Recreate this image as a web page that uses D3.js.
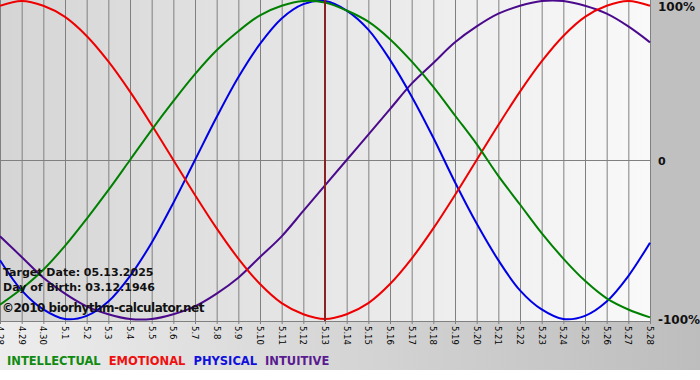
<!DOCTYPE html>
<html>
<head>
<meta charset="utf-8">
<script src="https://cdn.jsdelivr.net/npm/d3@7"></script>
<style>
  body { margin: 0; background: #fff; }
  svg { display: block; }
  text { font-family: "DejaVu Sans", Verdana, sans-serif; }
</style>
</head>
<body>
<svg id="chart" width="700" height="380"></svg>
<script>
// day labels along the bottom
var days = ["4.28","4.29","4.30","5.1","5.2","5.3","5.4","5.5","5.6","5.7","5.8","5.9","5.10",
  "5.11","5.12","5.13","5.14","5.15","5.16","5.17","5.18","5.19","5.20","5.21","5.22","5.23",
  "5.24","5.25","5.26","5.27","5.28"];
var targetIndex = 15;

// values read per day, -1..1
var intellectual = [-0.91,-0.81,-0.69,-0.54,-0.37,-0.19,0,0.19,0.37,0.54,0.69,0.81,0.91,0.97,1.0,0.99,
  0.94,0.87,0.76,0.62,0.46,0.28,0.10,-0.10,-0.28,-0.46,-0.62,-0.76,-0.87,-0.94,-0.99];
var emotional = [0.97,1.0,0.97,0.90,0.78,0.62,0.43,0.22,0,-0.22,-0.43,-0.62,-0.78,-0.90,-0.97,-1.0,
  -0.97,-0.90,-0.78,-0.62,-0.43,-0.22,0,0.22,0.43,0.62,0.78,0.90,0.97,1.0,0.97];
var physical = [-0.63,-0.82,-0.94,-1.0,-0.98,-0.89,-0.73,-0.52,-0.27,0,0.27,0.52,0.73,0.89,0.98,1.0,
  0.94,0.82,0.63,0.40,0.14,-0.14,-0.40,-0.63,-0.82,-0.94,-1.0,-0.98,-0.89,-0.73,-0.52];
var intuitive = [-0.48,-0.61,-0.74,-0.84,-0.92,-0.97,-1.0,-1.0,-0.97,-0.92,-0.84,-0.74,-0.61,-0.48,-0.32,-0.16,
  0,0.16,0.32,0.48,0.61,0.74,0.84,0.92,0.97,1.0,1.0,0.97,0.92,0.84,0.74];

var series = [
  { name: "INTUITIVE", values: intuitive, color: "#4b0a8c" },
  { name: "PHYSICAL", values: physical, color: "#0000e6" },
  { name: "EMOTIONAL", values: emotional, color: "#ee0000" },
  { name: "INTELLECTUAL", values: intellectual, color: "#008000" }
];
var legendOrder = ["INTELLECTUAL","EMOTIONAL","PHYSICAL","INTUITIVE"];
var legendColor = { INTELLECTUAL: "#108a10", EMOTIONAL: "#ee1010", PHYSICAL: "#1010dd", INTUITIVE: "#5a1a90" };

var svg = d3.select("#chart");
var plotW = 650, plotH = 321;

var x = d3.scaleLinear().domain([0, days.length - 1]).range([0, plotW]);
var y = d3.scaleLinear().domain([-1, 1]).range([319, 1]);

var defs = svg.append("defs");
var g1 = defs.append("linearGradient").attr("id", "plotBg");
g1.append("stop").attr("offset", "0%").attr("stop-color", "#d5d5d5");
g1.append("stop").attr("offset", "100%").attr("stop-color", "#f9f9f9");
var g2 = defs.append("linearGradient").attr("id", "bandBg");
g2.append("stop").attr("offset", "0%").attr("stop-color", "#ededed");
g2.append("stop").attr("offset", "100%").attr("stop-color", "#bdbdbd");
defs.append("clipPath").attr("id", "plotClip")
  .append("rect").attr("width", plotW + 1).attr("height", plotH);

// backgrounds
svg.append("rect").attr("width", 700).attr("height", 370).attr("fill", "url(#bandBg)");
svg.append("rect").attr("x", plotW).attr("width", 50).attr("height", plotH).attr("fill", "#c0c0c0");
svg.append("rect").attr("width", plotW).attr("height", plotH).attr("fill", "url(#plotBg)");

// grid
var grid = svg.append("g");
grid.selectAll("line.v").data(days).enter().append("line")
  .attr("class", "v")
  .attr("x1", function(d, i) { return x(i) + 0.5; })
  .attr("x2", function(d, i) { return x(i) + 0.5; })
  .attr("y1", 0).attr("y2", plotH + 3)
  .attr("stroke", "#808080").attr("stroke-width", 1);
grid.append("line")
  .attr("x1", 0).attr("x2", plotW).attr("y1", y(0) + 0.5).attr("y2", y(0) + 0.5)
  .attr("stroke", "#808080");
grid.append("line")
  .attr("x1", 0).attr("x2", plotW).attr("y1", plotH + 0.5).attr("y2", plotH + 0.5)
  .attr("stroke", "#808080");

// curves
var line = d3.line()
  .x(function(d, i) { return x(i); })
  .y(function(d) { return y(d); })
  .curve(d3.curveCatmullRom);
var curves = svg.append("g").attr("clip-path", "url(#plotClip)");
curves.selectAll("path").data(series).enter().append("path")
  .attr("d", function(s) { return line(s.values); })
  .attr("fill", "none")
  .attr("stroke", function(s) { return s.color; })
  .attr("stroke-width", 2);

// target day marker
svg.append("line")
  .attr("x1", x(targetIndex)).attr("x2", x(targetIndex))
  .attr("y1", 0).attr("y2", plotH)
  .attr("stroke", "#8a2222").attr("stroke-width", 2);

// x labels
svg.append("g").selectAll("text").data(days).enter().append("text")
  .attr("transform", function(d, i) { return "translate(" + (x(i) - 3) + "," + (plotH + 5) + ") rotate(90)"; })
  .attr("font-size", "8.5px")
  .attr("fill", "#000")
  .text(function(d) { return d; });

// y labels
var yLabels = [{ v: 1, t: "100%", dy: 10 }, { v: 0, t: "0", dy: 5 }, { v: -1, t: "-100%", dy: 5 }];
svg.append("g").selectAll("text").data(yLabels).enter().append("text")
  .attr("x", 658)
  .attr("y", function(d) { return y(d.v) + d.dy; })
  .attr("font-size", function(d) { return d.v === 0 ? "11px" : "12px"; })
  .attr("font-weight", "bold")
  .attr("fill", "#111")
  .text(function(d) { return d.t; });

// info text
var info = svg.append("g").attr("font-weight", "bold").attr("fill", "#111");
info.append("text").attr("x", 3).attr("y", 276).attr("font-size", "11px").text("Target Date: 05.13.2025");
info.append("text").attr("x", 3).attr("y", 291).attr("font-size", "11px").text("Day of Birth: 03.12.1946");
info.append("text").attr("x", 2).attr("y", 312).attr("font-size", "12px")
  .attr("letter-spacing", "-0.5px").text("\u00a92010 biorhythm-calculator.net");

// legend
var lx = 7;
var legend = svg.append("g").attr("font-weight", "bold").attr("font-size", "11.5px");
legendOrder.forEach(function(name) {
  var t = legend.append("text").attr("x", lx).attr("y", 365)
    .attr("fill", legendColor[name]).text(name);
  lx += t.node().getComputedTextLength() + 8;
});
</script>
</body>
</html>
